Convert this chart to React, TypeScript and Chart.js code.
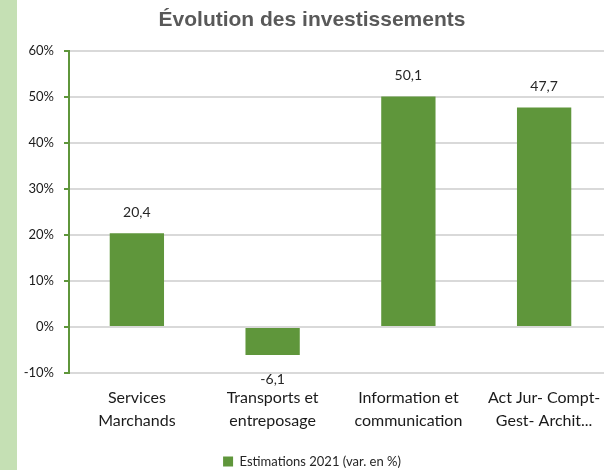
import React, { useEffect, useRef } from "react";
import { Chart, registerables } from "chart.js";

Chart.register(...registerables);

const categories: string[][] = [
  ["Services", "Marchands"],
  ["Transports et", "entreposage"],
  ["Information et", "communication"],
  ["Act Jur- Compt-", "Gest- Archit..."],
];
const values: number[] = [20.4, -6.1, 50.1, 47.7];
const seriesName = "Estimations 2021 (var. en %)";
const chartTitle = "Évolution des investissements";
const yMin = -10;
const yMax = 60;
const yStep = 10;

const GREEN = "#5F963B";
const FONT = "Lato, 'Open Sans', sans-serif";

const dataLabels = {
  id: "dataLabels",
  afterDatasetsDraw(chart: any) {
    const ctx = chart.ctx;
    const meta = chart.getDatasetMeta(0);
    ctx.save();
    ctx.font = `14px ${FONT}`;
    ctx.fillStyle = "#262626";
    ctx.textAlign = "center";
    ctx.textBaseline = "middle";
    meta.data.forEach((bar: any, i: number) => {
      const v = values[i];
      const txt = v.toFixed(1).replace(".", ",");
      const y = v >= 0 ? bar.y - 21 : bar.y + 24;
      ctx.fillText(txt, bar.x, y);
    });
    ctx.restore();
  },
};

export default function App() {
  const ref = useRef<HTMLCanvasElement | null>(null);
  useEffect(() => {
    if (!ref.current) return;
    const chart = new Chart(ref.current, {
      type: "bar",
      data: {
        labels: categories,
        datasets: [
          {
            label: seriesName,
            data: values,
            backgroundColor: GREEN,
            borderWidth: 0,
            categoryPercentage: 1,
            barPercentage: 0.4,
          },
        ],
      },
      options: {
        responsive: false,
        animation: false,
        layout: { padding: { left: 12, right: 8, top: 0, bottom: 0 } },
        plugins: {
          title: {
            display: true,
            text: chartTitle,
            color: "#595959",
            font: { family: "'Liberation Sans', Arial, sans-serif", size: 21, weight: "bold", lineHeight: 1.2 },
            padding: { top: 8, bottom: 17.8 },
          },
          legend: {
            position: "bottom",
            labels: {
              boxWidth: 10,
              boxHeight: 10,
              color: "#262626",
              font: { family: FONT, size: 13 },
              padding: 10,
            },
          },
          tooltip: { enabled: false },
        },
        scales: {
          x: {
            grid: { display: false },
            border: { display: false },
            ticks: {
              color: "#1a1a1a",
              font: { family: FONT, size: 16, lineHeight: 1.4 },
              padding: 6,
              maxRotation: 0,
              autoSkip: false,
            },
            afterFit(scale: any) {
              scale.height = 72;
            },
          },
          y: {
            min: yMin,
            max: yMax,
            grid: {
              color: "#D9D9D9",
              lineWidth: 2,
              tickColor: GREEN,
              tickLength: 5,
              tickWidth: 2,
            },
            border: { display: true, color: GREEN, width: 2 },
            ticks: {
              stepSize: yStep,
              color: "#1a1a1a",
              font: { family: FONT, size: 13 },
              padding: 10,
              callback: (v: any) => `${v}%`,
            },
            afterFit(scale: any) {
              scale.width = 57;
            },
          },
        },
      },
      plugins: [dataLabels],
    } as any);
    return () => chart.destroy();
  }, []);

  return (
    <div
      style={{
        position: "fixed",
        left: 0,
        top: 0,
        width: 604,
        height: 470,
        overflow: "hidden",
        background: "#ffffff",
      }}
    >
      <canvas
        ref={ref}
        width={620}
        height={478}
        style={{ position: "absolute", left: 0, top: 0, width: 620, height: 478 }}
      />
      <div
        style={{
          position: "absolute",
          left: 0,
          top: 0,
          width: 17,
          height: 470,
          background: "#C5E0B4",
          zIndex: 2,
        }}
      />
    </div>
  );
}
